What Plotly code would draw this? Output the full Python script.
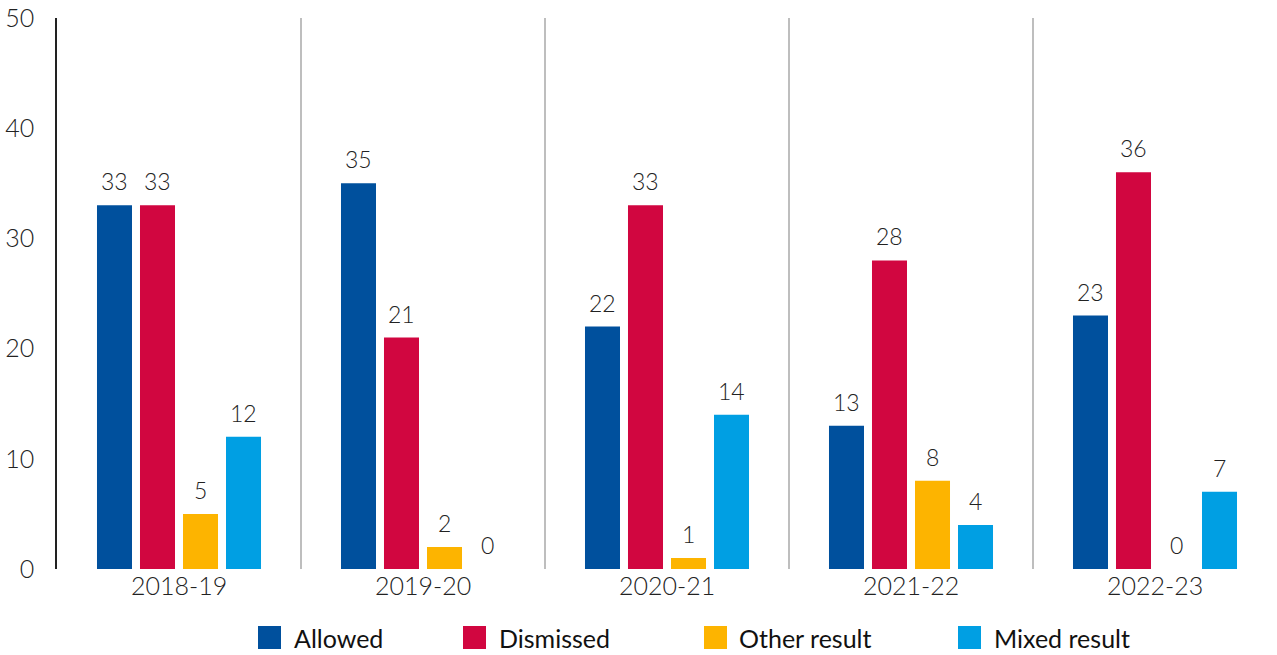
import plotly.graph_objects as go

# Appeal outcomes per financial year
years = ["2018-19", "2019-20", "2020-21", "2021-22", "2022-23"]
allowed = [33, 35, 22, 13, 23]
dismissed = [33, 21, 33, 28, 36]
other_result = [5, 2, 1, 8, 0]
mixed_result = [12, 0, 14, 4, 7]

series_names = ["Allowed", "Dismissed", "Other result", "Mixed result"]
series_values = [allowed, dismissed, other_result, mixed_result]
series_colors = ["#00509D", "#D10640", "#FDB400", "#009FE3"]

FONT = "Lato, 'Open Sans', sans-serif"
WEIGHT = 300
TEXT_COLOR = "#222222"
W, H = 1277, 655
M_L, M_R, M_T, M_B = 57, 0, 18, 86
BARGAP = 0.295
BARGROUPGAP = 0.186

fig = go.Figure()
for name, vals, col in zip(series_names, series_values, series_colors):
    fig.add_trace(go.Bar(
        x=years, y=vals, name=name,
        marker=dict(color=col, line=dict(width=0)),
        showlegend=False,
    ))

# value labels above each bar, offset to the bar's slot inside the group
plot_w = W - M_L - M_R
cat_w = plot_w / len(years)
slot_w = cat_w * (1 - BARGAP) / len(series_names)
annotations = []
for k, vals in enumerate(series_values):
    shift = (k - (len(series_names) - 1) / 2) * slot_w
    for yr, v in zip(years, vals):
        annotations.append(dict(
            x=yr, y=v, xref="x", yref="y", text=str(v), showarrow=False,
            xanchor="center", yanchor="bottom", xshift=shift, yshift=8,
            font=dict(family=FONT, size=23, color=TEXT_COLOR, weight=WEIGHT),
        ))

# vertical separators between year groups
shapes = []
for i in range(1, len(years)):
    shapes.append(dict(
        type="line", xref="x", yref="paper", x0=i - 0.5, x1=i - 0.5, y0=0, y1=1,
        line=dict(color="#A8A8A8", width=1.5),
    ))

# legend row: coloured squares with labels
plot_h = H - M_T - M_B
legend_y = (H - M_B - 637.5) / plot_h
legend_x = [269.5, 474.5, 715.5, 969.5]
for name, col, px in zip(series_names, series_colors, legend_x):
    xp = (px - M_L) / plot_w
    shapes.append(dict(
        type="rect", xref="paper", yref="paper",
        xsizemode="pixel", ysizemode="pixel",
        xanchor=xp, yanchor=legend_y,
        x0=-11.5, x1=11.5, y0=-11.5, y1=11.5,
        fillcolor=col, line=dict(width=0),
    ))
    annotations.append(dict(
        x=xp, y=legend_y, xref="paper", yref="paper", text=name,
        showarrow=False, xanchor="left", yanchor="middle", xshift=22,
        font=dict(family=FONT, size=25, color="#111111", weight=400),
    ))

fig.update_layout(
    width=W, height=H,
    margin=dict(l=M_L, r=M_R, t=M_T, b=M_B, pad=0),
    paper_bgcolor="white", plot_bgcolor="white",
    barmode="group", bargap=BARGAP, bargroupgap=BARGROUPGAP,
    showlegend=False,
    shapes=shapes, annotations=annotations,
    font=dict(family=FONT, color=TEXT_COLOR, weight=WEIGHT),
)
fig.update_xaxes(
    showline=False, showgrid=False, zeroline=False, ticks="",
    tickfont=dict(family=FONT, size=25, color=TEXT_COLOR, weight=WEIGHT),
)
fig.update_yaxes(
    range=[0, 50], dtick=10, showgrid=False, zeroline=False,
    showline=True, linecolor="#222222", linewidth=1.5, ticks="",
    ticklabelstandoff=16,
    tickfont=dict(family=FONT, size=25, color=TEXT_COLOR, weight=WEIGHT),
)

fig.write_html("out.html")
